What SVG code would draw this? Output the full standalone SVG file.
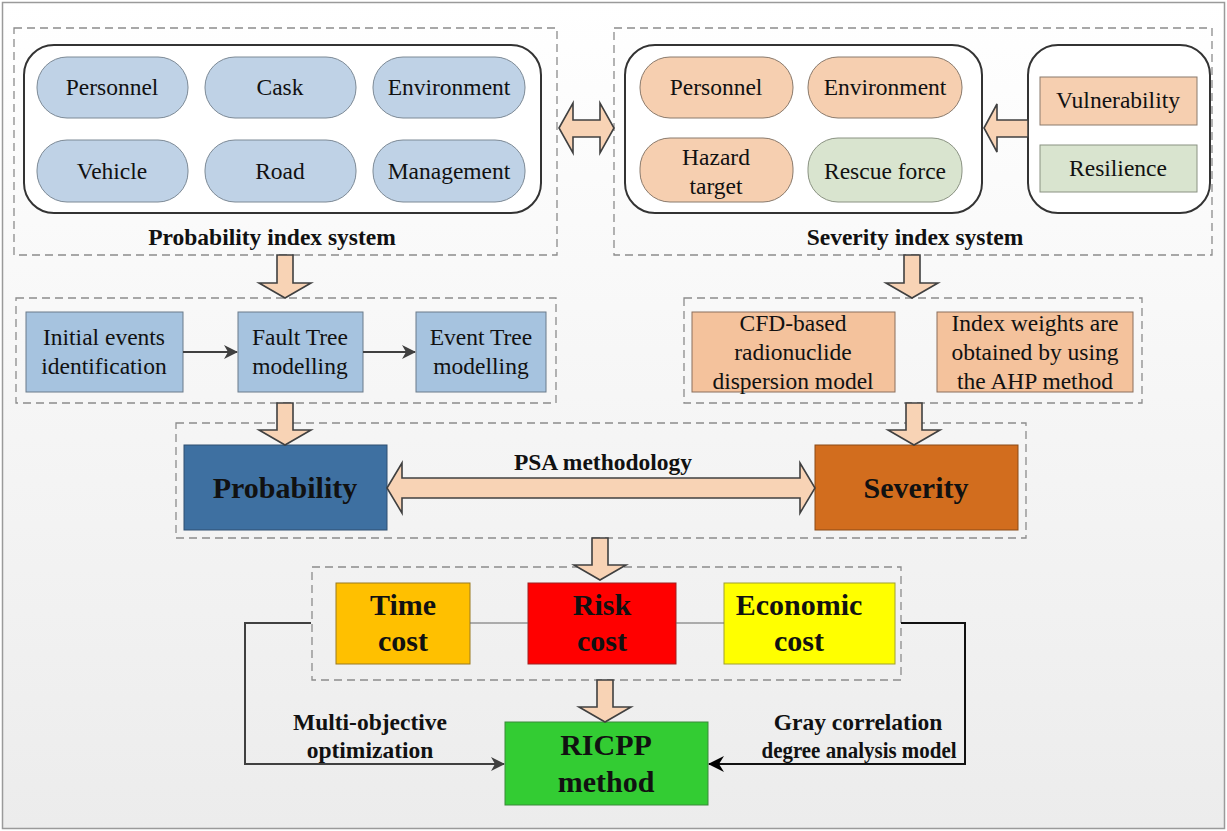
<svg xmlns="http://www.w3.org/2000/svg" width="1227" height="831" viewBox="0 0 1227 831">
<defs>
<linearGradient id="bg" x1="0" y1="0" x2="0" y2="1">
<stop offset="0" stop-color="#ffffff"/>
<stop offset="1" stop-color="#ececec"/>
</linearGradient>
<marker id="ah" markerWidth="14" markerHeight="14" refX="13" refY="7" orient="auto" markerUnits="userSpaceOnUse">
<path d="M0,0 L14,7 L0,14 L4,7 Z" fill="#404040"/>
</marker>
<marker id="ahk" markerWidth="16" markerHeight="16" refX="15" refY="8" orient="auto" markerUnits="userSpaceOnUse">
<path d="M0,0 L16,8 L0,16 L5,8 Z" fill="#000"/>
</marker>
</defs>
<style>
text{font-family:"Liberation Serif","Times New Roman",serif;fill:#111;text-anchor:middle}
.t{font-size:23.5px}
.b{font-weight:bold;font-size:23.5px}
.big{font-weight:bold;font-size:30px}
.dash{fill:none;stroke:#8c8c8c;stroke-width:1.3;stroke-dasharray:8 5}
.round{fill:#fff;stroke:#333;stroke-width:2}
.pb{fill:#bfd2e6;stroke:#7d8a96;stroke-width:1}
.ps{fill:#f6cfb0;stroke:#8a7a6c;stroke-width:1}
.pg{fill:#d9e4cf;stroke:#8a9282;stroke-width:1}
.rb{fill:#a6c3df;stroke:#6b7b8a;stroke-width:1}
.rs{fill:#f4c29c;stroke:#8a6f5c;stroke-width:1}
.blk{fill:#f8d3b5;stroke:#404040;stroke-width:1.6;stroke-linejoin:miter}
.ln{fill:none;stroke:#404040;stroke-width:2}
.thin{fill:none;stroke:#666;stroke-width:1}
</style>
<rect x="2.5" y="2.5" width="1222" height="826" fill="url(#bg)" stroke="#9a9a9a" stroke-width="1.5"/>

<!-- Probability index system -->
<g id="prob-index">
<rect class="dash" x="14" y="28" width="543" height="227"/>
<rect class="round" x="24" y="45" width="517" height="168" rx="30"/>
<text class="b" x="272" y="245">Probability index system</text>
</g>
<g id="p-personnel"><rect class="pb" x="37" y="57" width="151" height="61" rx="30"/><text class="t" x="112" y="95">Personnel</text></g>
<g id="p-cask"><rect class="pb" x="205" y="57" width="151" height="61" rx="30"/><text class="t" x="280" y="95">Cask</text></g>
<g id="p-environment"><rect class="pb" x="373" y="57" width="152" height="61" rx="30"/><text class="t" x="449" y="95">Environment</text></g>
<g id="p-vehicle"><rect class="pb" x="37" y="140" width="151" height="62" rx="30"/><text class="t" x="112" y="179">Vehicle</text></g>
<g id="p-road"><rect class="pb" x="205" y="140" width="151" height="62" rx="30"/><text class="t" x="280" y="179">Road</text></g>
<g id="p-management"><rect class="pb" x="373" y="140" width="152" height="62" rx="30"/><text class="t" x="449" y="179">Management</text></g>

<!-- Severity index system -->
<g id="sev-index">
<rect class="dash" x="614" y="28" width="598" height="227"/>
<rect class="round" x="625" y="45" width="357" height="168" rx="30"/>
<text class="b" x="915" y="245">Severity index system</text>
</g>
<g id="s-personnel"><rect class="ps" x="640" y="57" width="153" height="61" rx="30"/><text class="t" x="716" y="95">Personnel</text></g>
<g id="s-environment"><rect class="ps" x="808" y="57" width="154" height="61" rx="30"/><text class="t" x="885" y="95">Environment</text></g>
<g id="s-hazard"><rect class="ps" x="640" y="138" width="153" height="64" rx="30"/><text class="t" x="716" y="165">Hazard</text><text class="t" x="716" y="194">target</text></g>
<g id="s-rescue"><rect class="pg" x="808" y="138" width="154" height="64" rx="30"/><text class="t" x="885" y="179">Rescue force</text></g>
<g id="vr-group"><rect class="round" x="1028" y="45" width="182" height="168" rx="30"/></g>
<g id="s-vulnerability"><rect class="ps" x="1040" y="77" width="157" height="48" rx="0"/><text class="t" x="1118" y="108">Vulnerability</text></g>
<g id="s-resilience"><rect class="pg" x="1040" y="145" width="157" height="47" rx="0"/><text class="t" x="1118" y="176">Resilience</text></g>

<!-- PSA sub-boxes -->
<g id="psa-left"><rect class="dash" x="16" y="298" width="540" height="105"/></g>
<g id="initial"><rect class="rb" x="26" y="312" width="157" height="80"/><text class="t" x="104" y="345">Initial events</text><text class="t" x="104" y="374">identification</text></g>
<g id="fault"><rect class="rb" x="238" y="312" width="125" height="80"/><text class="t" x="300" y="345">Fault Tree</text><text class="t" x="300" y="374">modelling</text></g>
<g id="event"><rect class="rb" x="416" y="312" width="130" height="80"/><text class="t" x="481" y="345">Event Tree</text><text class="t" x="481" y="374">modelling</text></g>

<g id="sev-right"><rect class="dash" x="684" y="298" width="458" height="105"/></g>
<g id="cfd"><rect class="rs" x="692" y="312" width="203" height="80"/><text class="t" x="793" y="331">CFD-based</text><text class="t" x="793" y="360">radionuclide</text><text class="t" x="793" y="389">dispersion model</text></g>
<g id="ahp"><rect class="rs" x="937" y="312" width="196" height="80"/><text class="t" x="1035" y="331">Index weights are</text><text class="t" x="1035" y="360">obtained by using</text><text class="t" x="1035" y="389">the AHP method</text></g>

<g id="psa"><rect class="dash" x="176" y="423" width="850" height="115"/><text class="b" x="603" y="470">PSA methodology</text></g>
<g id="probability"><rect x="184" y="445" width="203" height="85" fill="#3e70a1" stroke="#2e4f70" stroke-width="1"/><text class="big" x="285" y="498">Probability</text></g>
<g id="severity"><rect x="815" y="445" width="203" height="85" fill="#d26d1e" stroke="#8a4a16" stroke-width="1"/><text class="big" x="916" y="498">Severity</text></g>

<g id="costs"><rect class="dash" x="312" y="567" width="589" height="113"/></g>
<g id="time"><rect x="336" y="583" width="134" height="81" fill="#ffc000" stroke="#9a7a20" stroke-width="1"/><text class="big" x="403" y="615">Time</text><text class="big" x="403" y="651">cost</text></g>
<g id="risk"><rect x="528" y="583" width="148" height="81" fill="#ff0000" stroke="#a02020" stroke-width="1"/><text class="big" x="602" y="615">Risk</text><text class="big" x="602" y="651">cost</text></g>
<g id="economic"><rect x="724" y="583" width="171" height="81" fill="#ffff00" stroke="#a0a030" stroke-width="1"/><text class="big" x="799" y="615">Economic</text><text class="big" x="799" y="651">cost</text></g>

<g id="ricpp"><rect x="505" y="722" width="203" height="83" fill="#33cc33" stroke="#3a8a3a" stroke-width="1"/><text class="big" x="606" y="755">RICPP</text><text class="big" x="606" y="792">method</text></g>

<g id="labels">
<text class="b" x="370" y="730">Multi-objective</text>
<text class="b" x="370" y="758">optimization</text>
<text class="b" x="858" y="730">Gray correlation</text>
<text class="b" x="859" y="758" textLength="195" lengthAdjust="spacingAndGlyphs">degree analysis model</text>
</g>

<g id="connectors">
<path class="blk" d="M559,128 L573,103 L573,120 L600,120 L600,103 L614,128 L600,153 L600,137 L573,137 L573,153 Z"/>
<path class="blk" d="M984,128 L997,104 L997,120 L1028,120 L1028,137 L997,137 L997,152 Z"/>
<path class="blk" d="M277,255 L293,255 L293,283 L311,283 L285,298 L259,283 L277,283 Z"/>
<path class="blk" d="M904,255 L920,255 L920,283 L938,283 L912,298 L886,283 L904,283 Z"/>
<path class="blk" d="M277,403 L293,403 L293,430 L311,430 L285,445 L259,430 L277,430 Z"/>
<path class="blk" d="M906,403 L922,403 L922,430 L940,430 L914,445 L888,430 L906,430 Z"/>
<path class="blk" d="M592,538 L608,538 L608,565 L626,565 L600,580 L574,565 L592,565 Z"/>
<path class="blk" d="M597,680 L613,680 L613,707 L631,707 L605,722 L579,707 L597,707 Z"/>
<path class="blk" d="M387,488 L402,463 L402,478 L800,478 L800,463 L815,488 L800,513 L800,498 L402,498 L402,513 Z"/>
<line class="ln" x1="183" y1="352" x2="237" y2="352" marker-end="url(#ah)"/>
<line class="ln" x1="363" y1="352" x2="415" y2="352" marker-end="url(#ah)"/>
<line class="thin" x1="470" y1="623" x2="528" y2="623"/>
<line class="thin" x1="676" y1="623" x2="724" y2="623"/>
<path class="ln" d="M311,623 L245,623 L245,764 L504,764" marker-end="url(#ah)"/>
<path fill="none" stroke="#111" stroke-width="2" d="M901,623 L965,623 L965,764 L709,764" marker-end="url(#ahk)"/>
</g>
</svg>
